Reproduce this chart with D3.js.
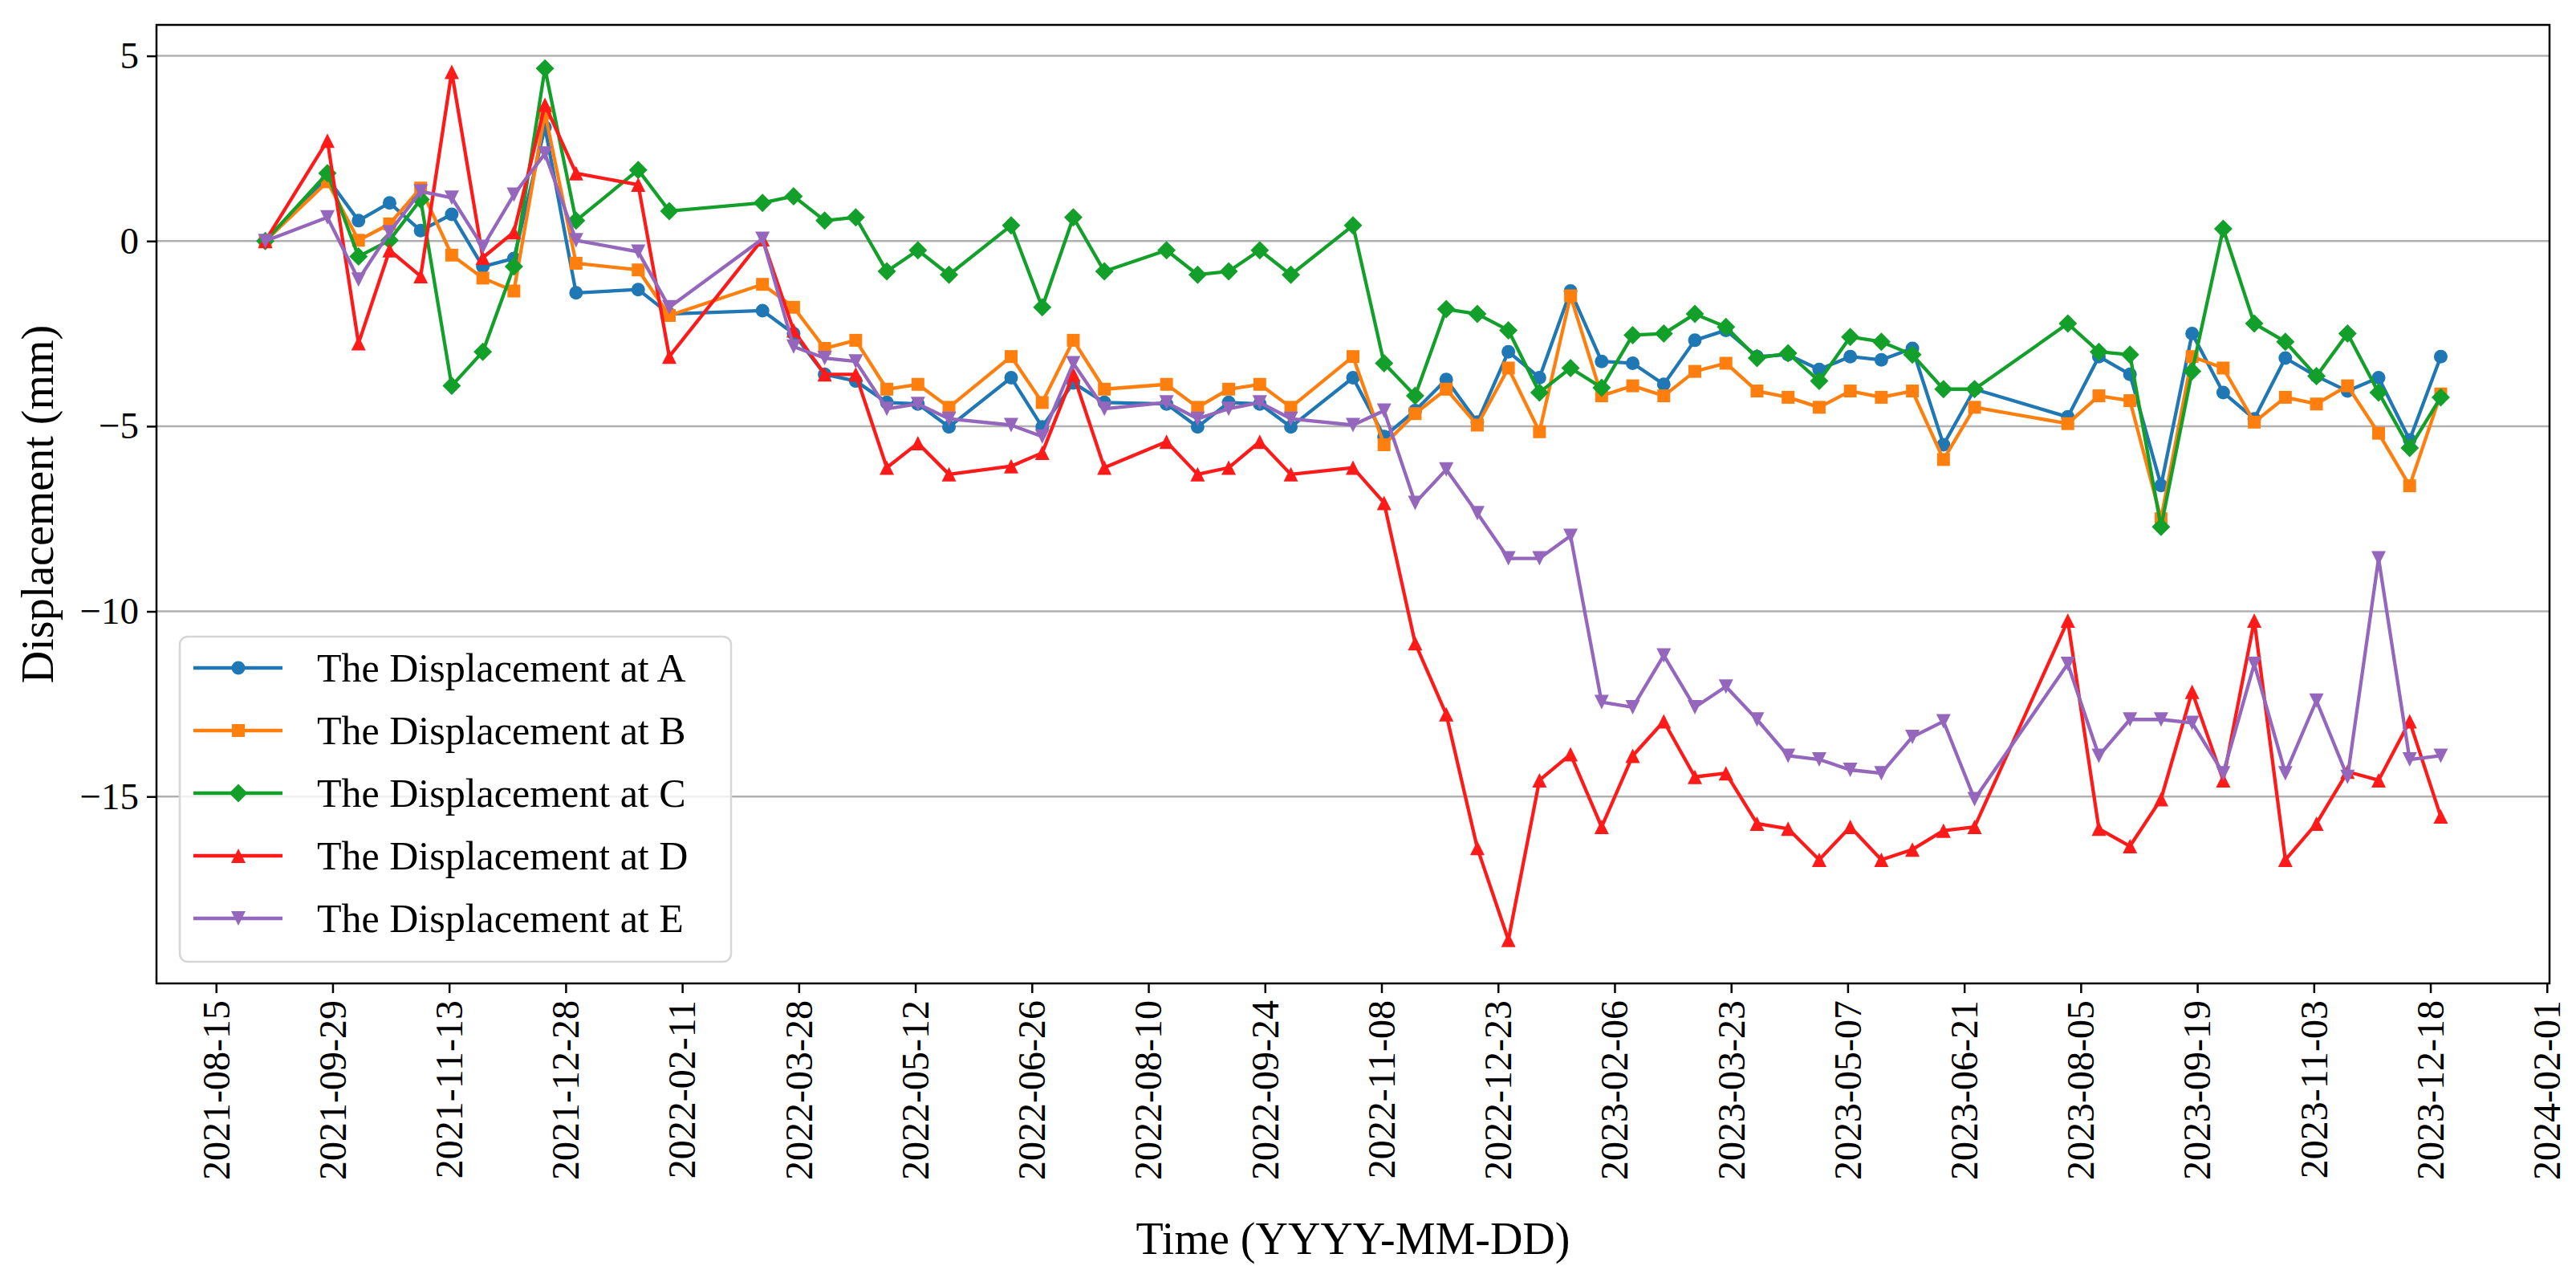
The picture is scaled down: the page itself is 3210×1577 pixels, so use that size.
<!DOCTYPE html>
<html>
<head>
<meta charset="utf-8">
<script src="https://cdn.jsdelivr.net/npm/d3@7"></script>
<style>
  body { margin: 0; background: #fff; }
  svg { display: block; }
  text { font-family: "Liberation Serif", "Times New Roman", serif; fill: #000; }
</style>
</head>
<body>
<svg id="chart" width="3210" height="1577"></svg>
<script>
// acquisition dates (12-day revisit, some gaps)
const dates = [
  "2021-09-03","2021-09-27","2021-10-09","2021-10-21","2021-11-02","2021-11-14","2021-11-26","2021-12-08","2021-12-20","2022-01-01",
  "2022-01-25","2022-02-06","2022-03-14","2022-03-26","2022-04-07","2022-04-19","2022-05-01","2022-05-13","2022-05-25",
  "2022-06-18","2022-06-30","2022-07-12","2022-07-24","2022-08-17","2022-08-29","2022-09-10","2022-09-22","2022-10-04",
  "2022-10-28","2022-11-09","2022-11-21","2022-12-03","2022-12-15","2022-12-27","2023-01-08","2023-01-20","2023-02-01",
  "2023-02-13","2023-02-25","2023-03-09","2023-03-21","2023-04-02","2023-04-14","2023-04-26","2023-05-08","2023-05-20",
  "2023-06-01","2023-06-13","2023-06-25","2023-07-31","2023-08-12","2023-08-24","2023-09-05","2023-09-17","2023-09-29",
  "2023-10-11","2023-10-23","2023-11-04","2023-11-16","2023-11-28","2023-12-10","2023-12-22"
];

const dispA = [
  0, 1.7, 0.55, 1.03, 0.28, 0.72, -0.69, -0.47, 3.07, -1.40,
  -1.31, -1.97, -1.88, -2.5, -3.6, -3.78, -4.36, -4.40, -5.02,
  -3.69, -5.02, -3.83, -4.36, -4.40, -5.02, -4.36, -4.40, -5.02,
  -3.69, -5.28, -4.58, -3.74, -4.89, -2.99, -3.69, -1.35, -3.25,
  -3.30, -3.87, -2.68, -2.41, -3.12, -3.07, -3.47, -3.12, -3.21,
  -2.9, -5.5, -4.0, -4.75, -3.12, -3.6, -6.6, -2.5, -4.09,
  -4.8, -3.16, -3.65, -4.05, -3.69, -5.37, -3.12
];

const dispB = [
  0, 1.6, 0.02, 0.46, 1.43, -0.38, -1.0, -1.35, 3.46, -0.6,
  -0.78, -2.01, -1.17, -1.79, -2.9, -2.68, -4.0, -3.87, -4.49,
  -3.12, -4.36, -2.68, -4.0, -3.87, -4.49, -4.0, -3.87, -4.49,
  -3.12, -5.5, -4.66, -4.0, -4.97, -3.43, -5.15, -1.48, -4.18,
  -3.91, -4.18, -3.52, -3.30, -4.05, -4.22, -4.49, -4.05, -4.22,
  -4.05, -5.9, -4.49, -4.93, -4.18, -4.31, -7.5, -3.12, -3.43,
  -4.89, -4.22, -4.40, -3.91, -5.19, -6.61, -4.13
];

const dispC = [
  0, 1.83, -0.42, 0.02, 1.12, -3.91, -2.99, -0.69, 4.66, 0.55,
  1.92, 0.81, 1.03, 1.21, 0.55, 0.64, -0.82, -0.25, -0.91,
  0.42, -1.79, 0.64, -0.82, -0.25, -0.91, -0.82, -0.25, -0.91,
  0.42, -3.3, -4.18, -1.84, -1.97, -2.41, -4.09, -3.43, -3.96,
  -2.54, -2.50, -1.97, -2.32, -3.16, -3.03, -3.78, -2.59, -2.72,
  -3.07, -4.0, -4.0, -2.23, -2.99, -3.07, -7.72, -3.52, 0.33,
  -2.23, -2.72, -3.65, -2.50, -4.09, -5.59, -4.22
];

const dispD = [
  0, 2.71, -2.76, -0.25, -0.95, 4.57, -0.45, 0.24, 3.68, 1.83,
  1.52, -3.12, 0.05, -2.41, -3.6, -3.6, -6.12, -5.46, -6.3,
  -6.08, -5.72, -3.6, -6.12, -5.42, -6.3, -6.12, -5.42, -6.3,
  -6.12, -7.07, -10.86, -12.78, -16.39, -18.87, -14.56, -13.86, -15.82,
  -13.9, -12.97, -14.47, -14.37, -15.73, -15.87, -16.71, -15.82, -16.71,
  -16.43, -15.92, -15.82, -10.25, -15.87, -16.34, -15.07, -12.17, -14.56,
  -10.25, -16.71, -15.73, -14.33, -14.56, -12.97, -15.54
];

const dispE = [
  0, 0.64, -1.04, 0.24, 1.34, 1.17, -0.16, 1.25, 2.36, 0.02,
  -0.29, -1.79, 0.06, -2.85, -3.16, -3.25, -4.53, -4.40, -4.8,
  -4.97, -5.28, -3.3, -4.53, -4.36, -4.8, -4.53, -4.36, -4.8,
  -4.97, -4.58, -7.07, -6.17, -7.35, -8.57, -8.57, -7.96, -12.45,
  -12.59, -11.19, -12.59, -12.03, -12.92, -13.9, -14.0, -14.28, -14.37,
  -13.39, -12.97, -15.07, -11.42, -13.9, -12.92, -12.92, -13.01, -14.37,
  -11.42, -14.37, -12.41, -14.47, -8.57, -14.0, -13.9
];

const seriesNames = [
  "The Displacement at A",
  "The Displacement at B",
  "The Displacement at C",
  "The Displacement at D",
  "The Displacement at E"
];

const xTickLabels = [
  "2021-08-15","2021-09-29","2021-11-13","2021-12-28","2022-02-11","2022-03-28","2022-05-12",
  "2022-06-26","2022-08-10","2022-09-24","2022-11-08","2022-12-23","2023-02-06","2023-03-23",
  "2023-05-07","2023-06-21","2023-08-05","2023-09-19","2023-11-03","2023-12-18","2024-02-01"
];
const yTickValues = [5, 0, -5, -10, -15];

const xLabel = "Time (YYYY-MM-DD)";
const yLabel = "Displacement (mm)";

// ---- drawing ----
const plot = { left: 195, right: 3177, top: 31, bottom: 1225 };

const parse = d3.utcParse("%Y-%m-%d");
const fmt = d3.utcFormat("%Y-%m-%d");
const xDates = dates.map(parse);

const allVals = [dispA, dispB, dispC, dispD, dispE];
const series = seriesNames.map((name, i) => ({
  name,
  points: xDates.map((d, j) => ({ date: d, value: allVals[i][j] }))
}));

// matplotlib-like 5% margins
const tMin = d3.min(xDates), tMax = d3.max(xDates);
const tPad = (tMax - tMin) * 0.05;
const vMin = d3.min(allVals.flat()), vMax = d3.max(allVals.flat());
const vPad = (vMax - vMin) * 0.05;

const x = d3.scaleUtc()
  .domain([new Date(+tMin - tPad), new Date(+tMax + tPad)])
  .range([plot.left, plot.right]);
const y = d3.scaleLinear()
  .domain([vMin - vPad, vMax + vPad])
  .range([plot.bottom, plot.top]);

const styles = [
  { color: "#1f77b4", marker: "circle" },
  { color: "#ff7f0e", marker: "square" },
  { color: "#13a02a", marker: "diamond" },
  { color: "#ff1a1a", marker: "triUp" },
  { color: "#9467bd", marker: "triDown" }
];
const lw = 4.3;

function markerPath(kind) {
  switch (kind) {
    case "circle": return d3.symbol(d3.symbolCircle, Math.PI * 8.5 * 8.5)();
    case "square": return "M-8,-8H8V8H-8Z";
    case "diamond": return "M0,-11.5L11.5,0L0,11.5L-11.5,0Z";
    case "triUp": return "M0,-9L9,9L-9,9Z";
    case "triDown": return "M0,9L9,-9L-9,-9Z";
  }
}

const svg = d3.select("#chart");

// horizontal grid
svg.append("g").selectAll("line").data(yTickValues).enter().append("line")
  .attr("x1", plot.left).attr("x2", plot.right)
  .attr("y1", d => y(d)).attr("y2", d => y(d))
  .attr("stroke", "#b0b0b0").attr("stroke-width", 2.5);

// axes
const minus = d => d < 0 ? "\u2212" + Math.abs(d) : String(d);

const xAxis = svg.append("g")
  .attr("transform", `translate(0,${plot.bottom})`)
  .attr("font-family", null)
  .call(d3.axisBottom(x).tickValues(xTickLabels.map(parse)).tickFormat(fmt).tickSize(12).tickPadding(10));
xAxis.select(".domain").remove();
xAxis.selectAll(".tick line").attr("stroke", "#000").attr("stroke-width", 2.5);
xAxis.selectAll(".tick text")
  .attr("font-size", 48)
  .attr("transform", "rotate(-90)")
  .attr("text-anchor", "end")
  .attr("x", -21).attr("y", 0).attr("dy", "0.33em");

const yAxis = svg.append("g")
  .attr("transform", `translate(${plot.left},0)`)
  .call(d3.axisLeft(y).tickValues(yTickValues).tickFormat(minus).tickSize(12).tickPadding(10));
yAxis.select(".domain").remove();
yAxis.selectAll(".tick line").attr("stroke", "#000").attr("stroke-width", 2.5);
yAxis.selectAll(".tick text").attr("font-size", 47);

// series
const line = d3.line().x(d => x(d.date)).y(d => y(d.value));
const sg = svg.append("g");
series.forEach((s, i) => {
  const g = sg.append("g");
  g.append("path").datum(s.points)
    .attr("d", line).attr("fill", "none")
    .attr("stroke", styles[i].color).attr("stroke-width", lw)
    .attr("stroke-linejoin", "round");
  g.selectAll("path.mk").data(s.points).enter().append("path")
    .attr("class", "mk")
    .attr("d", markerPath(styles[i].marker))
    .attr("transform", d => `translate(${x(d.date)},${y(d.value)})`)
    .attr("fill", styles[i].color);
});

// frame
svg.append("rect")
  .attr("x", plot.left).attr("y", plot.top)
  .attr("width", plot.right - plot.left).attr("height", plot.bottom - plot.top)
  .attr("fill", "none").attr("stroke", "#000").attr("stroke-width", 2.5);

// legend
const lg = svg.append("g");
lg.append("rect")
  .attr("x", 224).attr("y", 793).attr("width", 687).attr("height", 405)
  .attr("rx", 10).attr("fill", "#fff").attr("fill-opacity", 0.8)
  .attr("stroke", "#d6d6d6").attr("stroke-width", 2.5);
const rows = lg.selectAll("g.row").data(series).enter().append("g")
  .attr("transform", (d, i) => `translate(0,${832 + i * 78})`);
rows.append("line")
  .attr("x1", 241).attr("x2", 352).attr("y1", 0).attr("y2", 0)
  .attr("stroke", (d, i) => styles[i].color).attr("stroke-width", lw);
rows.append("path")
  .attr("d", (d, i) => markerPath(styles[i].marker))
  .attr("transform", "translate(297,0)")
  .attr("fill", (d, i) => styles[i].color);
rows.append("text")
  .attr("x", 395).attr("y", 0).attr("dy", "0.34em")
  .attr("font-size", 50)
  .text(d => d.name);

// axis labels
svg.append("text")
  .attr("transform", `translate(46,${(plot.top + plot.bottom) / 2}) rotate(-90)`)
  .attr("text-anchor", "middle").attr("dy", "0.35em")
  .attr("font-size", 56)
  .text(yLabel);
svg.append("text")
  .attr("x", (plot.left + plot.right) / 2).attr("y", 1562)
  .attr("text-anchor", "middle")
  .attr("font-size", 56)
  .text(xLabel);
</script>
</body>
</html>
